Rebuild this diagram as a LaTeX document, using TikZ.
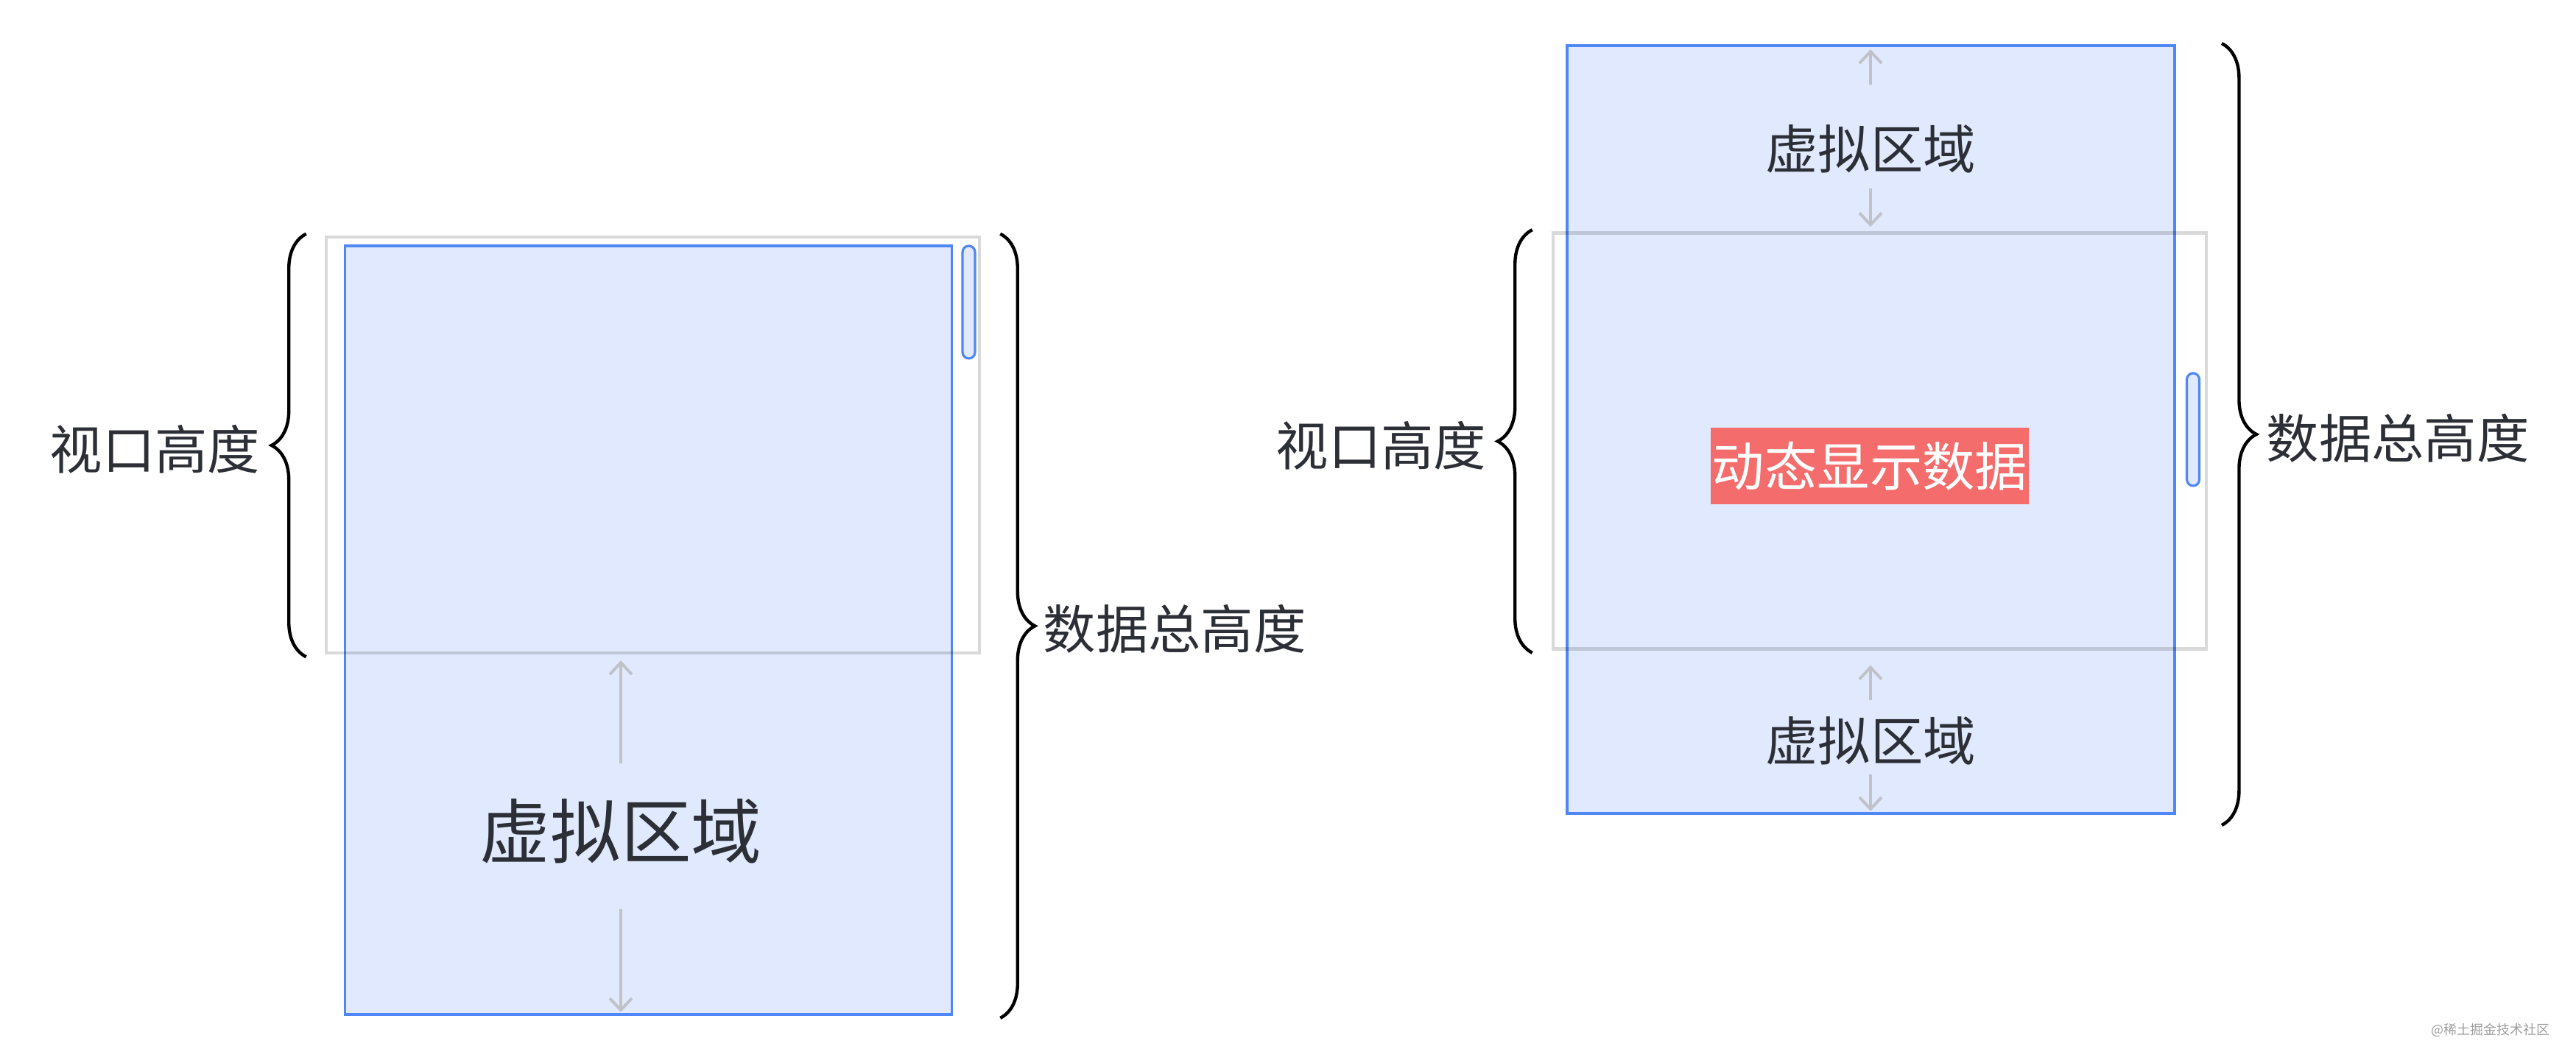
\documentclass[tikz,border=0pt]{standalone}
\usepackage{fontspec}
\newfontfamily\cjk{Noto Sans CJK SC}
\usetikzlibrary{arrows.meta, calc, decorations.pathreplacing}
\definecolor{vsInk}{HTML}{2C3036}
\definecolor{vsBlue}{HTML}{4F87F7}
\definecolor{vsFill}{HTML}{E0E9FD}
\definecolor{vsGrey}{HTML}{BFC2C7}
\definecolor{vsRed}{HTML}{F56C6C}
\tikzset{
  viewport/.style={
    draw=black, draw opacity=0.15, line width=1.3pt, inner sep=0pt,
    minimum width=8.87cm, minimum height=5.65cm
  },
  datarea/.style={
    draw=vsBlue, fill=vsFill, line width=1.1pt, inner sep=0pt,
    minimum width=8.24cm, minimum height=10.44cm
  },
  thumb/.style={
    draw=vsBlue, fill=vsFill, line width=0.9pt, rounded corners=0.085cm,
    inner sep=0pt, minimum width=0.17cm, minimum height=1.53cm
  },
  lbl/.style={font=\cjk\fontsize{20.3pt}{24pt}\selectfont, text=vsInk, inner sep=0pt},
  biglbl/.style={lbl, font=\cjk\fontsize{27.2pt}{32pt}\selectfont},
  hot/.style={lbl, fill=vsRed, text=white, minimum width=4.32cm, minimum height=1.04cm},
  wmark/.style={font=\cjk\fontsize{5.1pt}{6pt}\selectfont, text=black!38, inner sep=0pt},
  bracel/.style={decorate, decoration={brace, amplitude=0.47cm}, line width=1.25pt, draw=black},
  garrow/.style={-{Straight Barb[length=0.16cm, width=0.3cm]}, line width=1.1pt, draw=vsGrey},
}

\begin{document}
\begin{tikzpicture}
  \fill[white] (0,0) rectangle (34.98,14.44);
  \useasboundingbox (0,0) rectangle (34.98,14.44);

  % left: list scrolled to the top
  \node[datarea] (dataL) at (8.805,5.88) {};
  \node[thumb]   (thumbL) at (13.155,10.335) {};
  \node[viewport] (vpL) at (8.865,8.395) {};
  \node[biglbl] (virtL) at (8.43,3.145) {虚拟区域};
  \draw[garrow, shorten <=0.48cm, shorten >=0.08cm] (virtL.north) -- (virtL.north |- vpL.south);
  \draw[garrow, shorten <=0.61cm, shorten >=0.05cm] (virtL.south) -- (virtL.south |- dataL.south);

  \draw[bracel] ($(vpL.south west)+(-0.25,-0.03)$) -- ($(vpL.north west)+(-0.25,0.02)$);
  \node[lbl, anchor=east] (vhL) at (3.54,8.34) {视口高度};
  \draw[bracel] ($(vpL.north east)+(0.26,0.02)$) -- ($(vpL.north east |- dataL.south)+(0.26,-0.03)$);
  \node[lbl, anchor=west] (dhL) at (14.16,5.90) {数据总高度};

  % right: list scrolled to the middle
  \node[datarea, minimum width=8.25cm, minimum height=10.43cm] (dataR) at (25.405,8.605) {};
  \node[viewport] (vpR) at (25.525,8.45) {};
  \node[thumb] (thumbR) at (29.78,8.605) {};
  \node[hot] (showR) at (25.39,8.11) {动态显示数据};

  \node[lbl] (virtT) at (25.40,12.42) {虚拟区域};
  \draw[garrow, shorten <=0.53cm, shorten >=0.07cm] (virtT.north) -- (virtT.north |- dataR.north);
  \draw[garrow, shorten <=0.21cm, shorten >=0.06cm] (virtT.south) -- (virtT.south |- vpR.north);
  \node[lbl] (virtB) at (25.40,4.38) {虚拟区域};
  \draw[garrow, shorten <=0.21cm, shorten >=0.20cm] (virtB.north) -- (virtB.north |- vpR.south);
  \draw[garrow, shorten <=0.13cm, shorten >=0.05cm] (virtB.south) -- (virtB.south |- dataR.south);

  \draw[bracel] ($(vpR.south west)+(-0.26,-0.03)$) -- ($(vpR.north west)+(-0.26,0.02)$);
  \node[lbl, anchor=east] (vhR) at (20.19,8.39) {视口高度};
  \draw[bracel] ($(dataR.north east)+(0.62,0.01)$) -- ($(dataR.south east)+(0.62,-0.14)$);
  \node[lbl, anchor=west] (dhR) at (30.77,8.49) {数据总高度};

  \node[wmark] (wm) at (33.82,0.45) {@稀土掘金技术社区};
\end{tikzpicture}
\end{document}
